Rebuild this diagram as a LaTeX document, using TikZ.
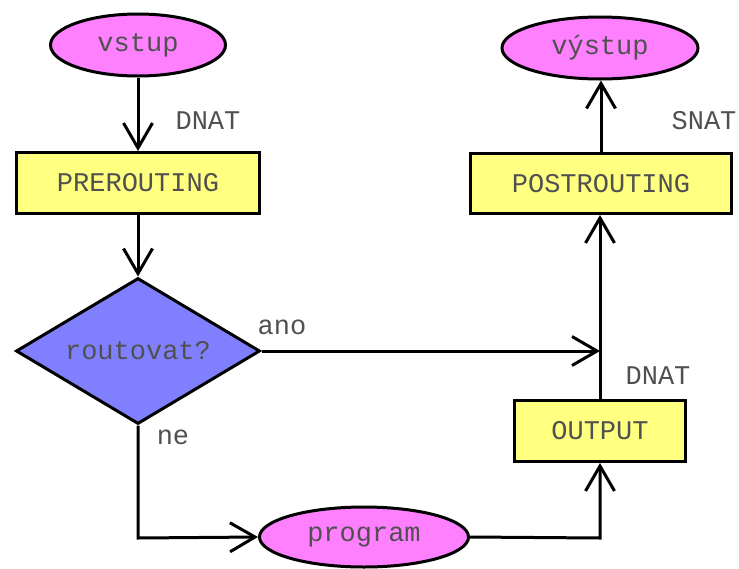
\documentclass[tikz,border=0pt]{standalone}
\usepackage{fontspec}
\setmonofont{Liberation Mono}
\usetikzlibrary{shapes.geometric,arrows.meta}
\definecolor{pinkfill}{HTML}{FF80FF}
\definecolor{yellowfill}{HTML}{FFFF80}
\definecolor{bluefill}{HTML}{8080FF}
\definecolor{txt}{HTML}{505050}
\tikzset{
  every node/.style={font=\ttfamily\fontsize{27}{32}\selectfont, text=txt},
  io/.style={ellipse, draw=black, line width=3pt, fill=pinkfill, inner sep=0pt},
  chain/.style={rectangle, draw=black, line width=3pt, fill=yellowfill, inner sep=0pt},
  decide/.style={diamond, shape aspect=1.67, draw=black, line width=3pt, fill=bluefill, inner sep=0pt},
  flow/.style={line width=3pt, line join=miter,
    -{Straight Barb[length=25pt,width=29pt,line width=3pt]}},
  lbl/.style={inner sep=0pt}
}
\begin{document}
\begin{tikzpicture}[x=1pt,y=-1pt]
  \useasboundingbox (0,0) rectangle (739,568);
  \fill[white] (0,0) rectangle (739,568);

  % nodes
  \node[io, minimum width=175pt, minimum height=62pt] (vstup) at (138,45) {vstup};
  \node[chain, minimum width=243pt, minimum height=61pt] (pre) at (138,183) {PREROUTING};
  \node[decide, minimum width=244pt, minimum height=146pt] (dia) at (138,351) {routovat?};
  \node[io, minimum width=209pt, minimum height=60pt] (prog) at (364,537) {program};
  \node[chain, minimum width=171pt, minimum height=61pt] (out) at (600,431) {OUTPUT};
  \node[chain, minimum width=261pt, minimum height=60pt] (post) at (601,183.5) {POSTROUTING};
  \node[io, minimum width=196pt, minimum height=62pt] (vys) at (600,48) {výstup};

  % labels
  \node[lbl] (l1) at (208,121) {DNAT};
  \node[lbl] (l2) at (704,121) {SNAT};
  \node[lbl] (l3) at (658,376) {DNAT};
  \node[lbl] (l4) at (282,327) {ano};
  \node[lbl] (l5) at (173,437) {ne};

  % junctions
  \coordinate (join) at (600,351);
  \coordinate (bl) at (138,538);
  \coordinate (br) at (600,538);

  % connectors
  \draw[flow] (vstup.south) -- (pre.north);
  \draw[flow] (pre.south) -- (dia.north);
  \draw[flow] (dia.east) -- (join);
  \draw[flow] (dia.south) -- (bl) -- (prog.west);
  \draw[flow] (prog.east) -- (br) -- (out.south);
  \draw[flow] (out.north) -- (out.north |- post.south);
  \draw[flow] (post.north) -- (post.north |- vys.south);
\end{tikzpicture}
\end{document}
